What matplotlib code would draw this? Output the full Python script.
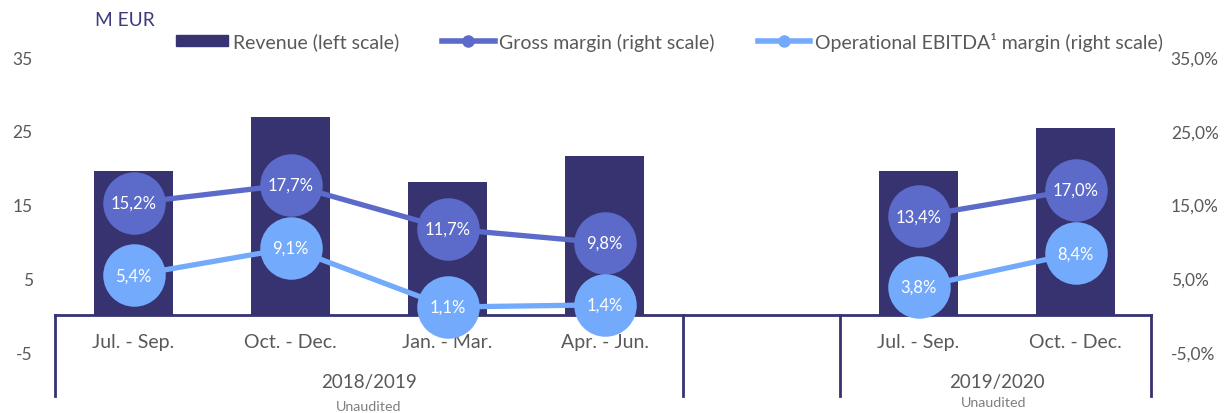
import numpy as np
import matplotlib.pyplot as plt
from matplotlib.lines import Line2D
from matplotlib.patches import Patch

plt.rcParams['font.family'] = ['Lato', 'DejaVu Sans']
plt.rcParams['axes.unicode_minus'] = False

quarters = ['Jul. - Sep.', 'Oct. - Dec.', 'Jan. - Mar.', 'Apr. - Jun.', '', 'Jul. - Sep.', 'Oct. - Dec.']
years = ['2018/2019', '2019/2020']
revenue = [19.5, 26.8, 18.1, 21.6, np.nan, 19.5, 25.4]            # M EUR
gross_margin = [15.2, 17.7, 11.7, 9.8, np.nan, 13.4, 17.0]         # %
ebitda_margin = [5.4, 9.1, 1.1, 1.4, np.nan, 3.8, 8.4]             # %

navy = '#363370'
c_gross = '#5C6BC9'
c_ebitda = '#74AAFB'
grey = '#595959'

x = np.arange(len(quarters))
gm = np.array(gross_margin) / 100
em = np.array(ebitda_margin) / 100

fig = plt.figure(figsize=(12.28, 4.14), dpi=100)
ax = fig.add_axes([0.0448, 0.1473, 0.895, 0.7126])
ax2 = ax.twinx()

ax.bar(x, revenue, width=0.5, color=navy, zorder=1)
ax.set_xlim(-0.5, 6.5)
ax.set_ylim(-5, 35)
ax.set_yticks([-5, 5, 15, 25, 35])
ax.tick_params(axis='y', length=0, pad=16, labelsize=12.5, labelcolor=grey)
ax.set_xticks([])

ax2.set_ylim(-0.05, 0.35)
ax2.set_yticks([-0.05, 0.05, 0.15, 0.25, 0.35])
ax2.set_yticklabels([f'{v*100:.1f}%'.replace('.', ',') for v in ax2.get_yticks()])
ax2.tick_params(axis='y', length=0, pad=12, labelsize=12.5, labelcolor=grey)

for a in (ax, ax2):
    for s in a.spines.values():
        s.set_visible(False)

for vals, col in ((gm, c_gross), (em, c_ebitda)):
    ax2.plot(x, vals, color=col, lw=3.8, zorder=3)
    ax2.plot(x, vals, 'o', color=col, ms=45, mec='none', zorder=4)
    for xi, v in zip(x, vals):
        if not np.isnan(v):
            ax2.text(xi, v, f'{v*100:.1f}%'.replace('.', ','), color='white',
                     fontsize=12, ha='center', va='center', zorder=5)

# category table under the bars
lk = dict(color=navy, lw=2, clip_on=False, zorder=2)
ax.plot([-0.5, 6.48], [0, 0], **lk)
for xv in (-0.5, 3.5, 4.5, 6.48):
    ax.plot([xv, xv], [0, -10.9], **lk)
for xi, q in zip(x, quarters):
    ax.text(xi, -3.6, q, ha='center', va='center', fontsize=14, color=grey, zorder=1.5)
ax.text(1.5, -9.0, years[0], ha='center', va='center', fontsize=13.5, color=grey)
ax.text(5.5, -9.0, years[1], ha='center', va='center', fontsize=13.5, color=grey)
ax.text(1.5, -12.3, 'Unaudited', ha='center', va='center', fontsize=10.3, color='#7f7f7f', clip_on=False)
ax.text(5.48, -11.8, 'Unaudited', ha='center', va='center', fontsize=10.3, color='#7f7f7f', clip_on=False)

fig.text(95 / 1228, 1 - 20 / 414, 'M EUR', color='#3B3A7A', fontsize=13.8, va='center')

handles = [
    Patch(color=navy),
    Line2D([], [], color=c_gross, lw=4, marker='o', ms=8),
    Line2D([], [], color=c_ebitda, lw=4, marker='o', ms=8),
]
labels = ['Revenue (left scale)', 'Gross margin (right scale)',
          'Operational EBITDA\u00b9 margin (right scale)']
fig.legend(handles, labels, loc='center left', bbox_to_anchor=(166 / 1228, 1 - 42 / 414),
           ncol=3, frameon=False, fontsize=14, labelcolor=grey, handlelength=2.7,
           handleheight=0.45, handletextpad=0.25, columnspacing=2.2, borderpad=0)

fig.savefig('out.png', dpi=100)
